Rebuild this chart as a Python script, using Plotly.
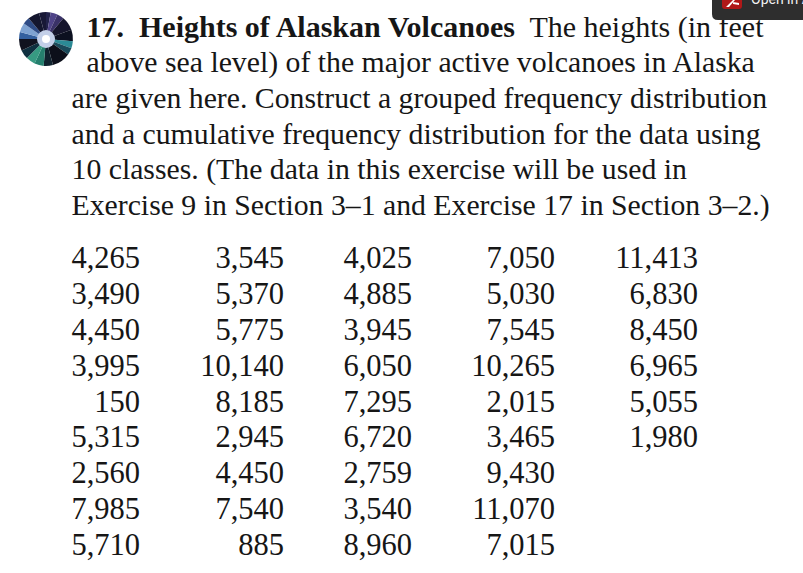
import plotly.graph_objects as go

W, H = 803, 573
FONT = "Liberation Serif"
INK = "#161616"

heading = "<b>17.  Heights of Alaskan Volcanoes</b>  The heights (in feet"
para_lines = [
    "above sea level) of the major active volcanoes in Alaska",
    "are given here. Construct a grouped frequency distribution",
    "and a cumulative frequency distribution for the data using",
    "10 classes. (The data in this exercise will be used in",
    "Exercise 9 in Section 3–1 and Exercise 17 in Section 3–2.)",
]
column_1 = ["4,265", "3,490", "4,450", "3,995", "150", "5,315", "2,560", "7,985", "5,710"]
column_2 = ["3,545", "5,370", "5,775", "10,140", "8,185", "2,945", "4,450", "7,540", "885"]
column_3 = ["4,025", "4,885", "3,945", "6,050", "7,295", "6,720", "2,759", "3,540", "8,960"]
column_4 = ["7,050", "5,030", "7,545", "10,265", "2,015", "3,465", "9,430", "11,070", "7,015"]
column_5 = ["11,413", "6,830", "8,450", "6,965", "5,055", "1,980"]

fig = go.Figure()

fig.add_trace(go.Scatter(
    x=[86.5], y=[29], mode="text", text=[heading],
    textposition="middle right", textfont=dict(family=FONT, size=30, color=INK),
    hoverinfo="skip", showlegend=False,
))
fig.add_trace(go.Scatter(
    x=[86.5, 71.5, 71.5, 71.5, 71.5], y=[65, 101, 137, 172, 208], mode="text", text=para_lines,
    textposition="middle right", textfont=dict(family=FONT, size=29.75, color=INK),
    hoverinfo="skip", showlegend=False,
))

row_y = [260, 296, 332, 368, 404, 439, 475, 511, 547]
for right, col in zip([140, 284, 412, 555, 698],
                      [column_1, column_2, column_3, column_4, column_5]):
    fig.add_trace(go.Scatter(
        x=[right] * len(col), y=row_y[:len(col)], mode="text", text=col,
        textposition="middle left", textfont=dict(family=FONT, size=30.5, color=INK),
        hoverinfo="skip", showlegend=False,
    ))

# compact disc drawn as a pie of coloured wedges
disc_vals = [10, 15, 15, 30, 25, 15, 15, 40, 20, 20, 20, 20, 25, 15, 20, 15, 25, 15]
disc_cols = ["#22224a", "#4f4488", "#3a3268", "#15152c", "#0c1020", "#2b8a95",
             "#1a4a5a", "#0c0f1a", "#10222e", "#25806e", "#379a82", "#0f3040",
             "#10121f", "#34609f", "#7fa3d2", "#2f4c86", "#14162e", "#181836"]
fig.add_trace(go.Pie(
    values=disc_vals, marker=dict(colors=disc_cols, line=dict(width=0)),
    domain=dict(x=[19 / W, 73 / W], y=[1 - 66 / H, 1 - 12 / H]),
    textinfo="none", sort=False, direction="clockwise", rotation=0,
    hoverinfo="skip", showlegend=False,
))

shapes = [
    dict(type="circle", x0=37, x1=55, y0=30, y1=48, fillcolor="#c3cfe8", line_width=0, layer="above"),
    dict(type="circle", x0=42, x1=50, y0=35, y1=43, fillcolor="#ffffff", line_width=0, layer="above"),
    dict(type="path", layer="above", fillcolor="#2e2e2e", line_width=0,
         path="M 712 -5 L 803 -5 L 803 20 L 718 20 Q 712 20 712 14 Z"),
    dict(type="path", layer="above", fillcolor="#b01818", line_width=0,
         path="M 722 -5 L 742 -5 L 742 6 Q 742 9 739 9 L 725 9 Q 722 9 722 6 Z"),
    dict(type="path", layer="above", fillcolor="#ffffff", line_width=0,
         path="M 726 7 L 733 0 L 735 0 L 729 7 Z M 733 2 L 739 3 L 739 5 L 733 4 Z"),
]
annotations = [
    dict(x=749 / W, y=1 + 1 / H, xref="paper", yref="paper", text="Open in A", showarrow=False,
         xanchor="left", yanchor="middle",
         font=dict(family="Roboto", size=14, color="#f2f2f2")),
]

fig.update_layout(
    width=W, height=H, margin=dict(l=0, r=0, t=0, b=0),
    paper_bgcolor="white", plot_bgcolor="white",
    xaxis=dict(range=[0, W], visible=False, fixedrange=True),
    yaxis=dict(range=[H, 0], visible=False, fixedrange=True),
    shapes=shapes, annotations=annotations,
)
fig.write_html("out.html", config={"displayModeBar": False},
               post_script="document.body.style.margin='0';document.body.style.overflow='hidden';")
